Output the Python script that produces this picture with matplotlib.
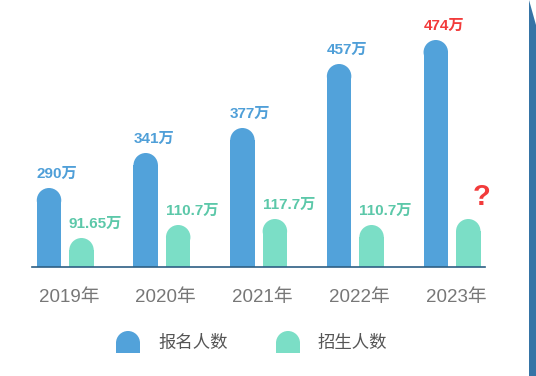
import matplotlib
matplotlib.use('Agg')
import matplotlib.pyplot as plt
from matplotlib.patches import Ellipse, Rectangle, Polygon, Wedge
import numpy as np

plt.rcParams['font.family'] = ['Liberation Sans', 'Noto Sans CJK SC', 'DejaVu Sans']

years = ['2019年', '2020年', '2021年', '2022年', '2023年']
series = ['报名人数', '招生人数']
apply_labels = ['290万', '341万', '377万', '457万', '474万']
admit_labels = ['91.65万', '110.7万', '117.7万', '110.7万', '?']
# bar lengths as drawn in the picture (the picture is not to scale)
apply_len = [79, 114, 139, 203, 227]
admit_len = [29, 42, 48, 42, 48]

BLUE = '#52a2da'
GREEN = '#7bdec6'
BLUE_TXT = '#4f9fd8'
GREEN_TXT = '#5cc8a9'
RED = '#f23b3b'

W, H = 536, 376
fig = plt.figure(figsize=(W / 100, H / 100), dpi=100)

# background layer in pixel coords: side strip + legend
bg = fig.add_axes([0, 0, 1, 1])
bg.set_xlim(0, W)
bg.set_ylim(H, 0)
bg.axis('off')
bg.add_patch(Polygon([(529, 0), (529, H), (W, H), (W, 25)], closed=True,
                     color='#3574a6', lw=0))

for x0, col, name in [(116, BLUE, series[0]), (276, GREEN, series[1])]:
    bg.add_patch(Wedge((x0 + 12, 343), 12, 180, 360, color=col, lw=0))
    bg.add_patch(Rectangle((x0, 343), 24, 10, color=col, lw=0))
    bg.text(x0 + 42, 343, name, fontsize=12.5, color='#555555',
            va='center', ha='left')

# main chart
ax = fig.add_axes([32 / W, (H - 267) / H, 453 / W, 267 / H])
ax.patch.set_alpha(0)
ax.set_xlim(-0.344, 4.341)
ax.set_ylim(0, 267)

x = np.arange(len(years))
bw = 0.253
off = 0.168
r = 12.25  # cap radius in y units (1 unit = 1 px here)

for xs, lens, col in [(x - off, apply_len, BLUE), (x + off, admit_len, GREEN)]:
    lens = np.array(lens, dtype=float)
    ax.bar(xs, lens - r, bw, color=col, lw=0)
    for xi, hi in zip(xs, lens):
        ax.add_patch(Ellipse((xi, hi - r), bw, 2 * r, color=col, lw=0))

for i, (lab, hi) in enumerate(zip(apply_labels, apply_len)):
    c = RED if i == len(years) - 1 else BLUE_TXT
    ax.annotate(lab, (x[i] - off, hi), xytext=(8, 14), textcoords='offset pixels',
                ha='center', va='center', fontsize=11, fontweight='bold', color=c)

for i, (lab, hi) in enumerate(zip(admit_labels, admit_len)):
    if lab == '?':
        ax.annotate(lab, (x[i] + off, hi), xytext=(13, 22), textcoords='offset pixels',
                    ha='center', va='center', fontsize=21, fontweight='bold', color=RED)
    else:
        ax.annotate(lab, (x[i] + off, hi), xytext=(14, 14), textcoords='offset pixels',
                    ha='center', va='center', fontsize=11, fontweight='bold',
                    color=GREEN_TXT)

for s in ['top', 'right', 'left']:
    ax.spines[s].set_visible(False)
ax.spines['bottom'].set_color('#2d5f84')
ax.spines['bottom'].set_linewidth(1.2)
ax.set_yticks([])
ax.set_xticks(x + 0.04)
ax.set_xticklabels(years, fontsize=13.5, color='#777777')
ax.tick_params(axis='x', length=0, pad=16)

fig.savefig('out.png', dpi=100)
